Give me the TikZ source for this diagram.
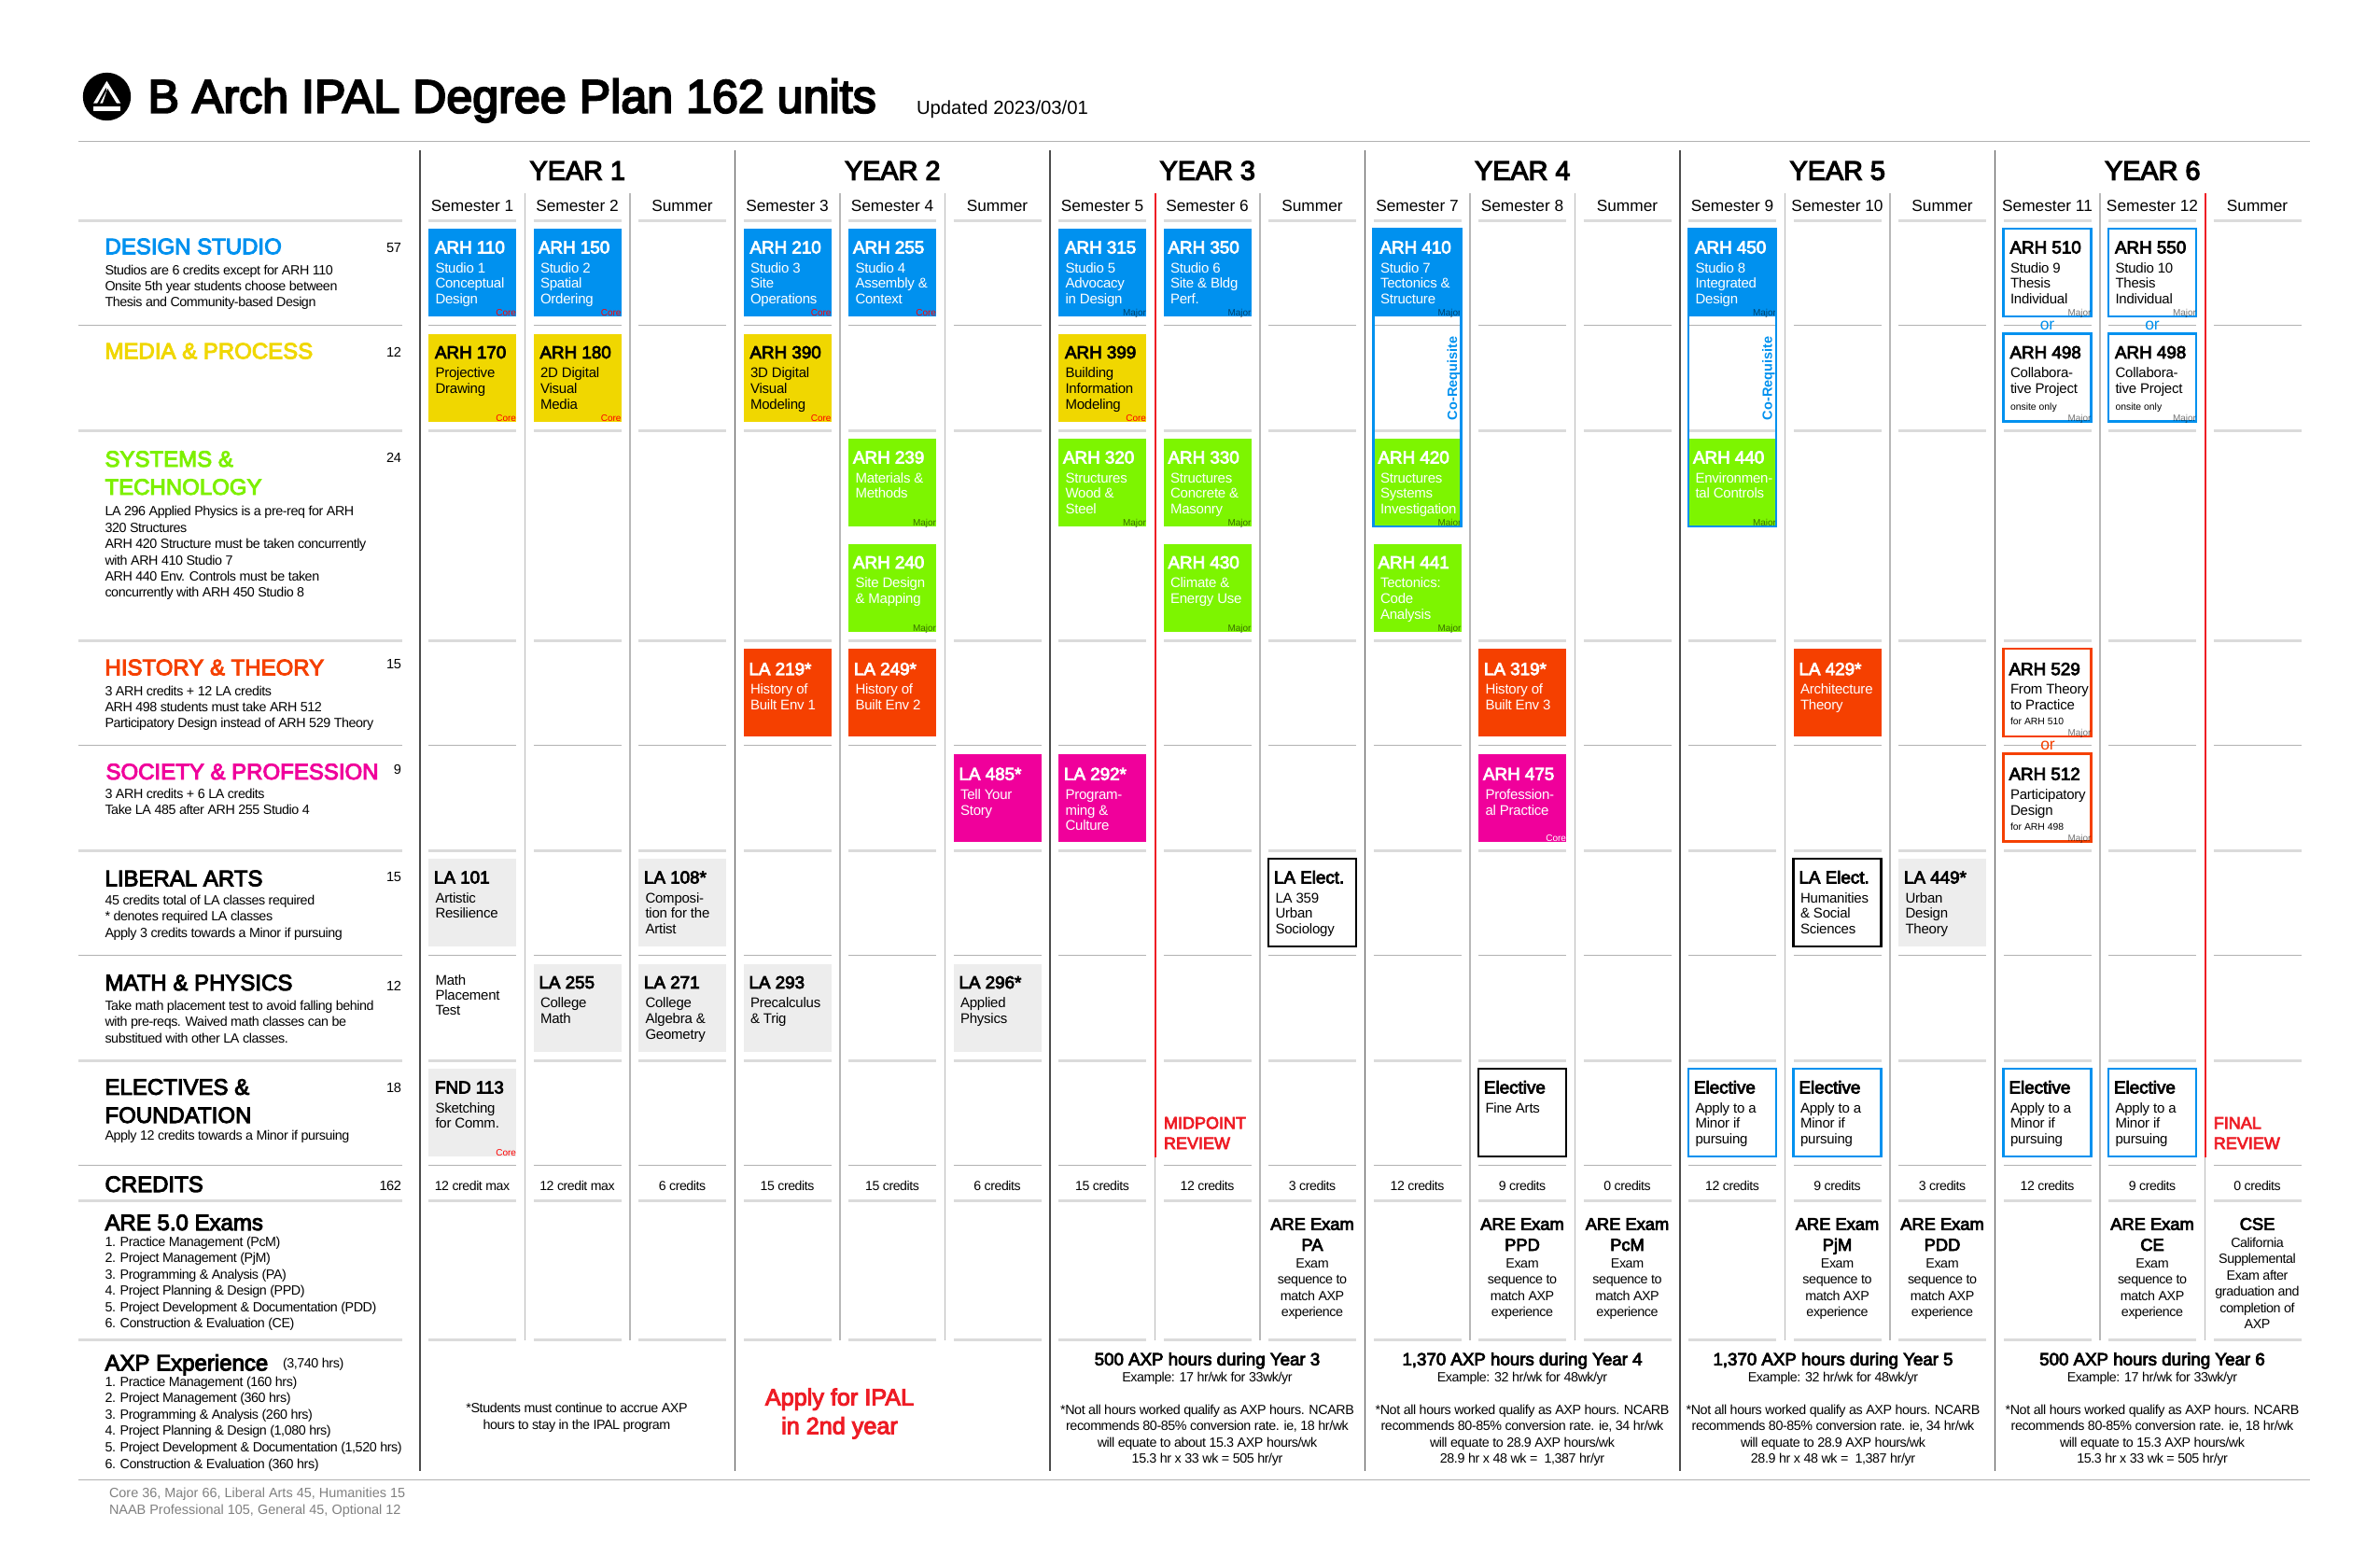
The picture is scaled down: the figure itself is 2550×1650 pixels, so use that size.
\documentclass[tikz,border=0pt]{standalone}
\usepackage{fontspec}
\setmainfont{Liberation Sans}
\newfontfamily\fb[FakeBold=4]{Liberation Sans}
\newfontfamily\rb{Liberation Sans Bold}
\newfontfamily\tg[LetterSpace=-3]{Liberation Sans}
\newfontfamily\tb[LetterSpace=-1.5]{Liberation Sans}
\definecolor{cblue}{HTML}{0091EF}
\definecolor{cyel}{HTML}{F0D700}
\definecolor{cgrn}{HTML}{7DF500}
\definecolor{cora}{HTML}{F54000}
\definecolor{cmag}{HTML}{F0009B}
\definecolor{cgry}{HTML}{EDEDED}
\definecolor{cred}{HTML}{EE1C25}
\definecolor{hgrn}{HTML}{7DF000}
\newcommand\fz[1]{\fontsize{#1}{#1}\selectfont}
\tikzset{
 x=1pt,y=-1pt,
 txt/.style={inner sep=0,outer sep=0,anchor=base west},
 ctr/.style={inner sep=0,outer sep=0,anchor=base},
 rgt/.style={inner sep=0,outer sep=0,anchor=base east},
 card/.style={inner sep=0,outer sep=0,anchor=north west,minimum width=94pt,minimum height=94pt},
 kblue/.style={fill=cblue},kyel/.style={fill=cyel},kgrn/.style={fill=cgrn},
 kora/.style={fill=cora},kmag/.style={fill=cmag},kgry/.style={fill=cgry},
 oblue/.style={draw=cblue,line width=2.2pt,fill=white},
 oora/.style={draw=cora,line width=2.2pt,fill=white},
 oblk/.style={draw=black,line width=2.5pt,fill=white},
 ttl/.style={txt,font=\fb\fz{18.8}},
 dsc/.style={txt,font=\tb\fz{15}},
 sml/.style={txt,font=\fz{10.4}},
 hdg/.style={txt,font=\fb\fz{24}},
 lft/.style={txt,font=\tg\fz{14.3}},
 mid/.style={ctr,font=\tg\fz{14.3}},
 num/.style={rgt,font=\tg\fz{14.6}},
 core/.style={rgt,font=\fz{10},text=red},
 corew/.style={rgt,font=\fz{10},text=white},
 major/.style={rgt,font=\fz{10},text=black,text opacity=.55},
 ruleA/.style={draw=black!14,line width=3pt},
 ruleB/.style={draw=black!30,line width=1.5pt},
 yearline/.style={draw=black!70,line width=1.5pt},
 semline/.style={draw=black!28,line width=1.3pt},
 redline/.style={draw=cred,line width=2pt},
 coreq/.style={txt,rotate=90,font=\rb\fz{14.5},text=cblue},
}
% name, col, row, box style, text colour, title dx, title, lines
\newcommand\card[8]{%
 \pgfmathsetmacro\cardx{459+112.5*#2}%
 \pgfmathsetmacro\cardy{245+112.5*#3}%
 \pgfmathsetmacro\cards{ifthenelse(#3==4||#3==5,1.7,0)}%
 \node[card,#4] (#1) at (\cardx,\cardy) {};
 \node[ttl,text=#5] (#1-t) at (\cardx+#6,\cardy+26.5+\cards) {#7};
 \foreach \tline [count=\ii from 0] in {#8} {
  \node[dsc,text=#5] (#1-d\ii) at (\cardx+7.5,\cardy+47.2+\cards+16.7*\ii) {\tline};
 }
}
\newcommand\tagit[3]{\node[#3] (#1-g) at ([yshift=0.5pt]#1.south east) {#2};}
% name, x, y0, dy, style, lines
\newcommand\lines[6]{%
 \foreach \tline [count=\ii from 0] in {#6} {
  \node[#5] (#1-\ii) at (#2,#3+#4*\ii) {\tline};
 }
}
\begin{document}
\begin{tikzpicture}
\useasboundingbox (0,0) rectangle (2550,1650);
\fill[white] (0,0) rectangle (2550,1650);
% logo
\node[circle,fill=black,minimum size=51.4pt,inner sep=0] (logo) at (114.5,103.5) {};
\fill[white] (114.4,86.7) -- (100,110.7) -- (129.3,110.7) -- cycle;
\fill[black] (113.5,94) -- (104.2,110.9) -- (106.8,110.9) -- (114.2,97) -- cycle;
\fill[black] (115.2,95) -- (110,110.9) -- (125,110.9) -- cycle;
\fill[white] (100,114.3) rectangle (129.3,119);
\node[txt,font=\fb\fz{50.2}] (title) at (158.5,120.7) {B Arch IPAL Degree Plan 162 units};
\node[txt,font=\fz{20.3}] (upd) at (982,122) {Updated 2023/03/01};
% rules
\coordinate (rl0) at (84,151.5); \coordinate (rr0) at (2475,151.5);
\coordinate (rl1) at (84,1585.5); \coordinate (rr1) at (2475,1585.5);
\draw[ruleB] (rl0) -- (rr0);
\draw[ruleB] (rl1) -- (rr1);
\foreach \yy in {236,461,686,911,1136,1286,1435.5} {
 \draw[ruleA] (84,\yy) -- (431,\yy);
 \foreach \c in {0,...,17} \draw[ruleA] ({459+112.5*\c},\yy) -- ({553+112.5*\c},\yy);
}
\foreach \yy in {348.5,798.5,1023.5,1248.5} {
 \draw[ruleB] (84,\yy) -- (431,\yy);
 \foreach \c in {0,...,17} \draw[ruleB] ({459+112.5*\c},\yy) -- ({553+112.5*\c},\yy);
}
% vertical lines
\foreach \k in {0,...,5} {
 \draw[semline] ({562.5+337.5*\k},207) -- ({562.5+337.5*\k},1435.5);
 \draw[semline] ({675+337.5*\k},207) -- ({675+337.5*\k},1435.5);
 \draw[yearline] ({450+337.5*\k},161) -- ({450+337.5*\k},1575.5);
}
\draw[redline] (1237.5,207) -- (1237.5,1239.5);
\draw[redline] (2362.5,207) -- (2362.5,1239.5);
% year and semester headers
\foreach \k [count=\n] in {0,...,5} {
 \node[ctr,font=\fb\fz{28.8}] (year\n) at ({618.75+337.5*\k},192.7) {YEAR \n};
}
\foreach \c/\s in {0/Semester 1,1/Semester 2,2/Summer,3/Semester 3,4/Semester 4,5/Summer,6/Semester 5,7/Semester 6,8/Summer,9/Semester 7,10/Semester 8,11/Summer,12/Semester 9,13/Semester 10,14/Summer,15/Semester 11,16/Semester 12,17/Summer} {
 \node[ctr,font=\fz{17.3}] (sem\c) at ({506+112.5*\c},226.7) {\s};
}
\foreach \c/\s in {0/12 credit max,1/12 credit max,2/6 credits,3/15 credits,4/15 credits,5/6 credits,6/15 credits,7/12 credits,8/3 credits,9/12 credits,10/9 credits,11/0 credits,12/12 credits,13/9 credits,14/3 credits,15/12 credits,16/9 credits,17/0 credits} {
 \node[ctr,font=\tg\fz{14.1}] (cred\c) at ({506+112.5*\c},1275.5) {\s};
}
% left column
\node[hdg,text=cblue] (hdesign) at (112.5,272.3) {DESIGN STUDIO};
\node[num] (n1) at (430,270) {57};
\lines{ld}{112.5}{294}{17.3}{lft}{Studios are 6 credits except for ARH 110,Onsite 5th year students choose between,Thesis and Community-based Design}
\node[hdg,text=cyel] (hmedia) at (112.5,384.3) {MEDIA \& PROCESS};
\node[num] (n2) at (430,382) {12};
\node[hdg,text=hgrn] (hsys1) at (112.5,500) {SYSTEMS \&};
\node[hdg,text=hgrn] (hsys2) at (112.5,530) {TECHNOLOGY};
\node[num] (n3) at (430,495) {24};
\lines{ls}{112.5}{552.7}{17.45}{lft}{LA 296 Applied Physics is a pre-req for ARH,320 Structures,ARH 420 Structure must be taken concurrently,with ARH 410 Studio 7,ARH 440 Env. Controls must be taken,concurrently with ARH 450 Studio 8}
\node[hdg,text=cora] (hhist) at (112.5,723.3) {HISTORY \& THEORY};
\node[num] (n4) at (430,716) {15};
\lines{lh}{112.5}{745}{17.4}{lft}{3 ARH credits + 12 LA credits,ARH 498 students must take ARH 512,Participatory Design instead of ARH 529 Theory}
\node[hdg,text=cmag] (hsoc) at (113.5,835) {SOCIETY \& PROFESSION};
\node[num] (n5) at (430,829) {9};
\lines{lp}{112.5}{855.3}{17.2}{lft}{3 ARH credits + 6 LA credits,Take LA 485 after ARH 255 Studio 4}
\node[hdg] (hlib) at (112.5,949.3) {LIBERAL ARTS};
\node[num] (n6) at (430,944) {15};
\lines{ll}{112.5}{969}{17.8}{lft}{45 credits total of LA classes required,* denotes required LA classes,Apply 3 credits towards a Minor if pursuing}
\node[hdg] (hmath) at (112.5,1061) {MATH \& PHYSICS};
\node[num] (n7) at (430,1061) {12};
\lines{lm}{112.5}{1082.5}{17.3}{lft}{Take math placement test to avoid falling behind,with pre-reqs. Waived math classes can be,substitued with other LA classes.}
\node[hdg] (helec1) at (112.5,1172.8) {ELECTIVES \&};
\node[hdg] (helec2) at (112.5,1203) {FOUNDATION};
\node[num] (n8) at (430,1170.5) {18};
\lines{le}{112.5}{1221.7}{17.3}{lft}{Apply 12 credits towards a Minor if pursuing}
\node[hdg] (hcred) at (112.5,1277) {CREDITS};
\node[num] (n9) at (430,1275.5) {162};
\node[hdg] (hare) at (112.5,1318) {ARE 5.0 Exams};
\lines{la}{112.5}{1335.3}{17.5}{lft}{1. Practice Management (PcM),2. Project Management (PjM),3. Programming \& Analysis (PA),4. Project Planning \& Design (PPD),5. Project Development \& Documentation (PDD),6. Construction \& Evaluation (CE)}
\node[hdg] (haxp) at (112.5,1468.4) {AXP Experience};
\node[lft] (haxpn) at (303,1465.6) {(3,740 hrs)};
\lines{lx}{112.5}{1485}{17.6}{lft}{1. Practice Management (160 hrs),2. Project Management (360 hrs),3. Programming \& Analysis (260 hrs),4. Project Planning \& Design (1{,}080 hrs),5. Project Development \& Documentation (1{,}520 hrs),6. Construction \& Evaluation (360 hrs)}
\lines{foot}{117}{1604}{18}{txt,font=\fz{14.45},text=black!50}{{Core 36, Major 66, Liberal Arts 45, Humanities 15},{NAAB Professional 105, General 45, Optional 12}}
% row 0
\card{a110}{0}{0}{kblue}{white}{7}{ARH 110}{Studio 1,Conceptual,Design}\tagit{a110}{Core}{core}
\card{a150}{1}{0}{kblue}{white}{5.5}{ARH 150}{Studio 2,Spatial,Ordering}\tagit{a150}{Core}{core}
\card{a210}{3}{0}{kblue}{white}{7}{ARH 210}{Studio 3,Site,Operations}\tagit{a210}{Core}{core}
\card{a255}{4}{0}{kblue}{white}{5}{ARH 255}{Studio 4,Assembly \&,Context}\tagit{a255}{Core}{core}
\card{a315}{6}{0}{kblue}{white}{7}{ARH 315}{Studio 5,Advocacy,in Design}\tagit{a315}{Major}{major}
\card{a350}{7}{0}{kblue}{white}{5}{ARH 350}{Studio 6,Site \& Bldg,Perf.}\tagit{a350}{Major}{major}
\card{a410}{9}{0}{kblue}{white}{7}{ARH 410}{Studio 7,Tectonics \&,Structure}\tagit{a410}{Major}{major}
\card{a450}{12}{0}{kblue}{white}{7}{ARH 450}{Studio 8,Integrated,Design}\tagit{a450}{Major}{major}
\card{a510}{15}{0}{oblue}{black}{7}{ARH 510}{Studio 9,Thesis,Individual}\tagit{a510}{Major}{major}
\card{a550}{16}{0}{oblue}{black}{7}{ARH 550}{Studio 10,Thesis,Individual}\tagit{a550}{Major}{major}
% row 1
\card{a170}{0}{1}{kyel}{black}{7}{ARH 170}{Projective,Drawing}\tagit{a170}{Core}{core}
\card{a180}{1}{1}{kyel}{black}{7}{ARH 180}{2D Digital,Visual,Media}\tagit{a180}{Core}{core}
\card{a390}{3}{1}{kyel}{black}{7}{ARH 390}{3D Digital,Visual,Modeling}\tagit{a390}{Core}{core}
\card{a399}{6}{1}{kyel}{black}{7}{ARH 399}{Building,Information,Modeling}\tagit{a399}{Core}{core}
\card{b498}{15}{1}{oblue}{black}{7}{ARH 498}{Collabora-,tive Project}\node[sml] (b498-s) at (b498.north west) [xshift=7.5pt,yshift=-81.5pt] {onsite only};\tagit{b498}{Major}{major}
\card{c498}{16}{1}{oblue}{black}{7}{ARH 498}{Collabora-,tive Project}\node[sml] (c498-s) at (c498.north west) [xshift=7.5pt,yshift=-81.5pt] {onsite only};\tagit{c498}{Major}{major}
% row 2
\card{a239}{4}{2}{kgrn}{white}{5}{ARH 239}{Materials \&,Methods}\tagit{a239}{Major}{major}
\card{a320}{6}{2}{kgrn}{white}{5}{ARH 320}{Structures,Wood \&,Steel}\tagit{a320}{Major}{major}
\card{a330}{7}{2}{kgrn}{white}{5}{ARH 330}{Structures,Concrete \&,Masonry}\tagit{a330}{Major}{major}
\card{a420}{9}{2}{kgrn}{white}{5}{ARH 420}{Structures,Systems,Investigation}\tagit{a420}{Major}{major}
\card{a440}{12}{2}{kgrn}{white}{5}{ARH 440}{Environmen-,tal Controls}\tagit{a440}{Major}{major}
% row 3
\card{a240}{4}{3}{kgrn}{white}{5}{ARH 240}{Site Design,\& Mapping}\tagit{a240}{Major}{major}
\card{a430}{7}{3}{kgrn}{white}{5}{ARH 430}{Climate \&,Energy Use}\tagit{a430}{Major}{major}
\card{a441}{9}{3}{kgrn}{white}{5}{ARH 441}{Tectonics:,Code,Analysis}\tagit{a441}{Major}{major}
% row 4
\card{l219}{3}{4}{kora}{white}{6}{LA 219*}{History of,Built Env 1}
\card{l249}{4}{4}{kora}{white}{6}{LA 249*}{History of,Built Env 2}
\card{l319}{10}{4}{kora}{white}{6}{LA 319*}{History of,Built Env 3}
\card{l429}{13}{4}{kora}{white}{6}{LA 429*}{Architecture,Theory}
\card{a529}{15}{4}{oora}{black}{6}{ARH 529}{From Theory,to Practice}\node[sml] (a529-s) at (a529.north west) [xshift=7.5pt,yshift=-81.7pt] {for ARH 510};\tagit{a529}{Major}{major}
% row 5
\card{l485}{5}{5}{kmag}{white}{6}{LA 485*}{Tell Your,Story}
\card{l292}{6}{5}{kmag}{white}{6}{LA 292*}{Program-,ming \&,Culture}
\card{a475}{10}{5}{kmag}{white}{5}{ARH 475}{Profession-,al Practice}\tagit{a475}{Core}{corew}
\card{a512}{15}{5}{oora}{black}{6}{ARH 512}{Participatory,Design}\node[sml] (a512-s) at (a512.north west) [xshift=7.5pt,yshift=-81.7pt] {for ARH 498};\tagit{a512}{Major}{major}
% row 6
\card{l101}{0}{6}{kgry}{black}{6}{LA 101}{Artistic,Resilience}
\card{l108}{2}{6}{kgry}{black}{6}{LA 108*}{Composi-,tion for the,Artist}
\card{e359}{8}{6}{oblk}{black}{6}{LA Elect.}{LA 359,Urban,Sociology}
\card{ehum}{13}{6}{oblk}{black}{6}{LA Elect.}{Humanities,\& Social,Sciences}
\card{l449}{14}{6}{kgry}{black}{6}{LA 449*}{Urban,Design,Theory}
% row 7
\lines{mp}{466.5}{1055}{16.3}{dsc}{Math,Placement,Test}
\card{l255}{1}{7}{kgry}{black}{6}{LA 255}{College,Math}
\card{l271}{2}{7}{kgry}{black}{6}{LA 271}{College,Algebra \&,Geometry}
\card{l293}{3}{7}{kgry}{black}{6}{LA 293}{Precalculus,\& Trig}
\card{l296}{5}{7}{kgry}{black}{6}{LA 296*}{Applied,Physics}
% row 8
\card{f113}{0}{8}{kgry}{black}{7}{FND 113}{Sketching,for Comm.}\tagit{f113}{Core}{core}
\card{eart}{10}{8}{oblk}{black}{6}{Elective}{Fine Arts}
\card{e12}{12}{8}{oblue}{black}{6}{Elective}{Apply to a,Minor if,pursuing}
\card{e13}{13}{8}{oblue}{black}{6}{Elective}{Apply to a,Minor if,pursuing}
\card{e15}{15}{8}{oblue}{black}{6}{Elective}{Apply to a,Minor if,pursuing}
\card{e16}{16}{8}{oblue}{black}{6}{Elective}{Apply to a,Minor if,pursuing}
% co-requisite frames
\draw[draw=cblue,line width=2.2pt] (a410.north west) rectangle (a420.south east);
\draw[draw=cblue,line width=2.2pt] (a450.north west) rectangle (a440.south east);
\node[coreq] (co1) at (1561,450) {Co-Requisite};
\node[coreq] (co2) at (1898.5,450) {Co-Requisite};
% or labels
\node[ctr,font=\fz{17.5},text=cblue] (or1) at (2193.5,353.5) {or};
\node[ctr,font=\fz{17.5},text=cblue] (or2) at (2306,353.5) {or};
\node[ctr,font=\fz{17.5},text=cora] (or3) at (2194,803.2) {or};
% reviews
\lines{rvm}{1247}{1209.3}{21.7}{txt,font=\fb\fz{18},text=cred}{MIDPOINT,REVIEW}
\lines{rvf}{2371.8}{1209.3}{21.7}{txt,font=\fb\fz{18},text=cred}{FINAL,REVIEW}
% exams
\newcommand\exam[3]{%
 \pgfmathsetmacro\ex{506+112.5*#2}%
 \node[ctr,font=\fb\fz{18.3}] (ex#1a) at (\ex,1317.7) {ARE Exam};
 \node[ctr,font=\fb\fz{18.3}] (ex#1b) at (\ex,1340) {#3};
 \lines{ex#1c}{\ex}{1358.3}{17.55}{mid}{Exam,sequence to,match AXP,experience}
}
\exam{pa}{8}{PA}
\exam{ppd}{10}{PPD}
\exam{pcm}{11}{PcM}
\exam{pjm}{13}{PjM}
\exam{pdd}{14}{PDD}
\exam{ce}{16}{CE}
\node[ctr,font=\fb\fz{18.3}] (cse) at (2418.5,1317.7) {CSE};
\lines{csed}{2418.5}{1336}{17.5}{mid}{California,Supplemental,Exam after,graduation and,completion of,AXP}
% AXP
\lines{y1n}{618}{1513.6}{17.5}{mid}{*Students must continue to accrue AXP,hours to stay in the IPAL program}
\lines{apply}{899.5}{1505.7}{30.6}{ctr,font=\fb\fz{25.2},text=cred}{Apply for IPAL,in 2nd year}
\newcommand\axp[7]{%
 \node[ctr,font=\fb\fz{18.7}] (#1h) at (#2,1462.7) {#3};
 \node[mid] (#1e) at (#2,1480) {#4};
 \lines{#1n}{#2}{1515}{17.6}{mid}{*Not all hours worked qualify as AXP hours. NCARB,{#5},{#6},{#7}}
}
\axp{y3}{1293.5}{500 AXP hours during Year 3}{Example: 17 hr/wk for 33wk/yr}{recommends 80-85\% conversion rate. ie, 18 hr/wk}{will equate to about 15.3 AXP hours/wk}{15.3 hr x 33 wk = 505 hr/yr}
\axp{y4}{1631}{1,370 AXP hours during Year 4}{Example: 32 hr/wk for 48wk/yr}{recommends 80-85\% conversion rate. ie, 34 hr/wk}{will equate to 28.9 AXP hours/wk}{28.9 hr x 48 wk =\ \ 1,387 hr/yr}
\axp{y5}{1964}{1,370 AXP hours during Year 5}{Example: 32 hr/wk for 48wk/yr}{recommends 80-85\% conversion rate. ie, 34 hr/wk}{will equate to 28.9 AXP hours/wk}{28.9 hr x 48 wk =\ \ 1,387 hr/yr}
\axp{y6}{2306}{500 AXP hours during Year 6}{Example: 17 hr/wk for 33wk/yr}{recommends 80-85\% conversion rate. ie, 18 hr/wk}{will equate to 15.3 AXP hours/wk}{15.3 hr x 33 wk = 505 hr/yr}
\end{tikzpicture}
\end{document}
